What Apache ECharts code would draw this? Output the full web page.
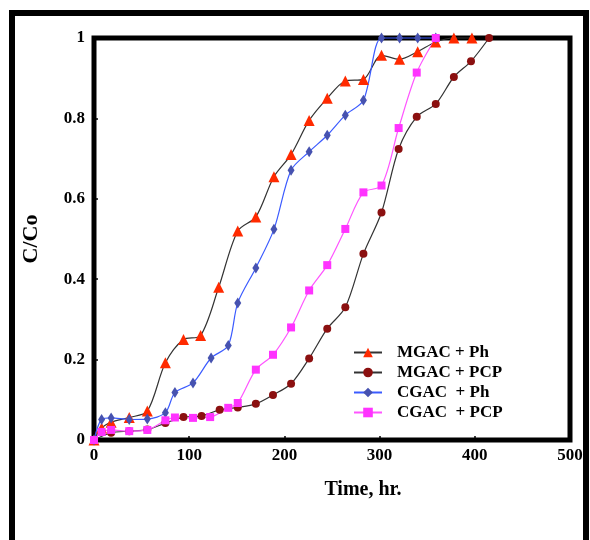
<!DOCTYPE html>
<html>
    <head>
        <meta charset="utf-8">
        <title>C/Co vs time</title>
        <script src="https://cdn.jsdelivr.net/npm/echarts@6/dist/echarts.min.js"></script>
        <style>
            html, body { margin: 0; padding: 0; background: #fff; }
        </style>
    </head>
    <body>
        <div id="chart1" style="width:590px;height:540px;"></div>
    </body>
    <script type="text/javascript">
        // 数据
        var seriesNames = ['MGAC + Ph', 'MGAC + PCP', 'CGAC  + Ph', 'CGAC  + PCP'];

        var timeMgacPh = [0, 8, 18, 37, 56, 75, 94, 112, 131, 151, 170, 189, 207, 226, 245, 264, 283, 302, 321, 340, 359, 378, 397];
        var mgacPh     = [0, 0.03, 0.044, 0.056, 0.072, 0.192, 0.25, 0.26, 0.38, 0.52, 0.555, 0.655, 0.71, 0.795, 0.85, 0.893, 0.897, 0.957, 0.947, 0.966, 0.99, 1.0, 1.0];

        var timeMgacPcp = [0, 18, 37, 56, 75, 94, 113, 132, 151, 170, 188, 207, 226, 245, 264, 283, 302, 320, 339, 359, 378, 396, 415];
        var mgacPcp     = [0, 0.018, 0.022, 0.026, 0.042, 0.057, 0.06, 0.075, 0.081, 0.09, 0.112, 0.14, 0.203, 0.277, 0.33, 0.463, 0.566, 0.724, 0.804, 0.836, 0.903, 0.942, 1.0];

        var timeCgacPh = [0, 8, 18, 37, 56, 75, 85, 104, 123, 141, 151, 170, 189, 207, 226, 245, 264, 283, 302, 321, 340, 359];
        var cgacPh     = [0, 0.051, 0.055, 0.051, 0.052, 0.068, 0.118, 0.142, 0.204, 0.235, 0.341, 0.428, 0.524, 0.671, 0.717, 0.758, 0.808, 0.845, 1.0, 1.0, 1.0, 1.0];

        var timeCgacPcp = [0, 8, 18, 37, 56, 75, 85, 104, 122, 141, 151, 170, 188, 207, 226, 245, 264, 283, 302, 320, 339, 359];
        var cgacPcp     = [0, 0.02, 0.025, 0.022, 0.025, 0.049, 0.056, 0.055, 0.057, 0.08, 0.092, 0.175, 0.212, 0.28, 0.372, 0.435, 0.525, 0.616, 0.633, 0.776, 0.914, 1.0];

        var xTicks = [0, 100, 200, 300, 400, 500];
        var yTicks = [0, 0.2, 0.4, 0.6, 0.8, 1];

        function pairs(xs, ys) {
            return xs.map(function (x, i) { return [x, ys[i]]; });
        }

        var font = 'Liberation Serif, Times New Roman, serif';
        var myChart1 = echarts.init(document.getElementById('chart1'));

        var option = {
            animation: false,
            backgroundColor: '#fff',
            // 外框
            graphic: [{
                type: 'rect',
                shape: { x: 12, y: 13, width: 574, height: 600 },
                style: { fill: 'none', stroke: '#000', lineWidth: 6 },
                silent: true
            }],
            grid: {
                left: 94, right: 20, top: 38, bottom: 100,
                show: true, borderColor: '#000', borderWidth: 5,
                containLabel: false
            },
            legend: {
                orient: 'vertical',
                left: 348, top: 339,
                itemWidth: 28, itemHeight: 12, itemGap: 3,
                textStyle: {
                    fontFamily: font, fontWeight: 'bold', fontSize: 17,
                    color: '#000', lineHeight: 17, padding: [0, 0, 0, 10]
                },
                data: seriesNames
            },
            xAxis: {
                type: 'value',
                min: xTicks[0], max: xTicks[xTicks.length - 1], interval: 100,
                name: 'Time, hr.', nameLocation: 'middle', nameGap: 40,
                nameTextStyle: { fontFamily: font, fontWeight: 'bold', fontSize: 20, color: '#000', padding: [0, 0, 0, 62] },
                axisLine: { show: false },
                axisTick: { inside: true, length: 4, lineStyle: { color: '#000', width: 1.5 } },
                axisLabel: { fontFamily: font, fontWeight: 'bold', fontSize: 17, color: '#000', margin: 7 },
                splitLine: { show: false }
            },
            yAxis: {
                type: 'value',
                min: yTicks[0], max: yTicks[yTicks.length - 1], interval: 0.2,
                name: 'C/Co', nameLocation: 'middle', nameGap: 52,
                nameTextStyle: { fontFamily: font, fontWeight: 'bold', fontSize: 22, color: '#000' },
                axisLine: { show: false },
                axisTick: { inside: true, length: 4, lineStyle: { color: '#000', width: 1.5 } },
                axisLabel: { fontFamily: font, fontWeight: 'bold', fontSize: 17, color: '#000', margin: 9 },
                splitLine: { show: false }
            },
            series: [{
                name: seriesNames[0], type: 'line', smooth: 0.3, clip: false,
                symbol: 'triangle', symbolSize: 11,
                lineStyle: { color: '#333', width: 1.2 },
                itemStyle: { color: '#ff2a00' },
                data: pairs(timeMgacPh, mgacPh)
            }, {
                name: seriesNames[1], type: 'line', smooth: 0.3, clip: false,
                symbol: 'circle', symbolSize: 8,
                lineStyle: { color: '#333', width: 1.2 },
                itemStyle: { color: '#8b1010' },
                data: pairs(timeMgacPcp, mgacPcp)
            }, {
                name: seriesNames[2], type: 'line', smooth: 0.3, clip: false,
                symbol: 'diamond', symbolSize: [7, 11],
                lineStyle: { color: '#3b5bff', width: 1.2 },
                itemStyle: { color: '#4652b0' },
                data: pairs(timeCgacPh, cgacPh)
            }, {
                name: seriesNames[3], type: 'line', smooth: 0.3, clip: false,
                symbol: 'rect', symbolSize: 8,
                lineStyle: { color: '#ff55ff', width: 1.2 },
                itemStyle: { color: '#ff33ff' },
                data: pairs(timeCgacPcp, cgacPcp)
            }]
        };
        myChart1.setOption(option);
    </script>
</html>
